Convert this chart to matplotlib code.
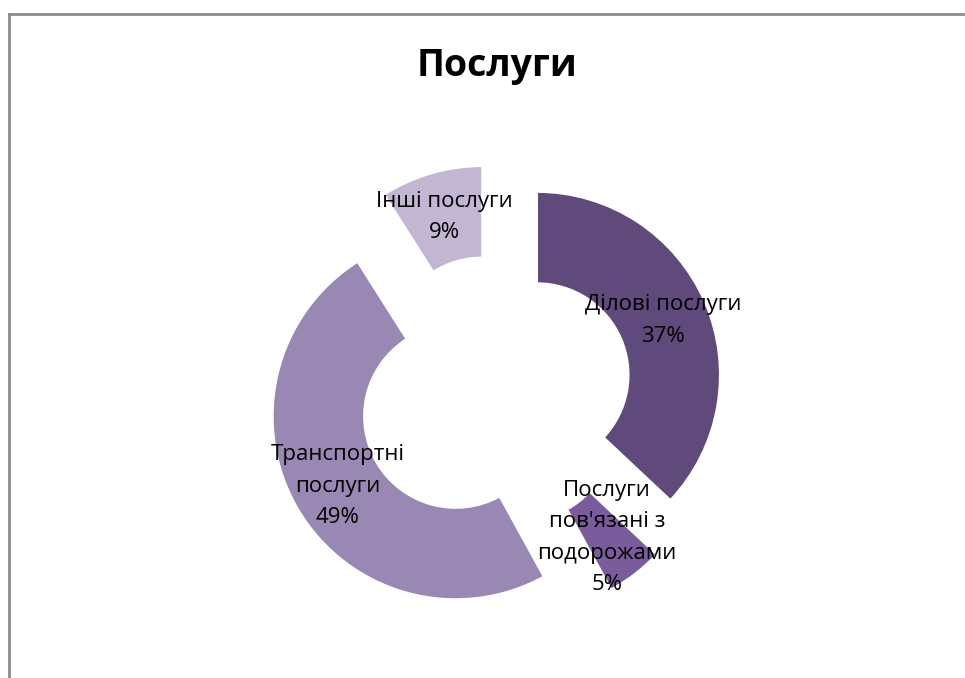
import matplotlib.pyplot as plt
from matplotlib.lines import Line2D

# Data (clockwise from 12 o'clock)
categories = ["Ділові послуги", "Послуги\nпов'язані з\nподорожами", "Транспортні\nпослуги", "Інші послуги"]
shares = [37, 5, 49, 9]
colors = ["#604a7b", "#7a5c9c", "#9988b3", "#c2b6d3"]

plt.rcParams['font.family'] = ['Open Sans', 'DejaVu Sans']

fig = plt.figure(figsize=(9.65, 6.78), dpi=100)
ax = fig.add_axes([0, 0, 1, 1])

wedges, texts, autotexts = ax.pie(
    shares, colors=colors, startangle=90, counterclock=False,
    explode=[0.25] * len(shares), radius=1.0,
    wedgeprops=dict(width=0.5, edgecolor="white", linewidth=1.5),
    autopct="%d%%", pctdistance=0.75,
    textprops=dict(fontsize=16, color="black"),
)
for t, cat, val in zip(autotexts, categories, shares):
    t.set_text(f"{cat}\n{val}%")
    t.set_ha("center")
    t.set_va("center")
    t.set_multialignment("center")
    t.set_linespacing(1.65)

# keep 1 data unit = 183 px, centre at (495, 393) px
scale = 183.0
cx, cy = 495.0, 393.0
ax.set_xlim(-cx / scale, (965 - cx) / scale)
ax.set_ylim(-(678 - cy) / scale, cy / scale)
ax.set_aspect("equal")
ax.axis("off")

fig.text(497 / 965, 1 - 66 / 678, "Послуги", ha="center", va="center",
         fontsize=27, fontweight="bold")

# chart border (clipped at right and bottom)
fig.add_artist(Line2D([9 / 965, 9 / 965], [0, 1 - 14 / 678], color="#8c8c8c", lw=2,
                      transform=fig.transFigure))
fig.add_artist(Line2D([9 / 965, 963 / 965], [1 - 14 / 678, 1 - 14 / 678], color="#8c8c8c", lw=2,
                      transform=fig.transFigure))

fig.savefig("out.png", dpi=100)
